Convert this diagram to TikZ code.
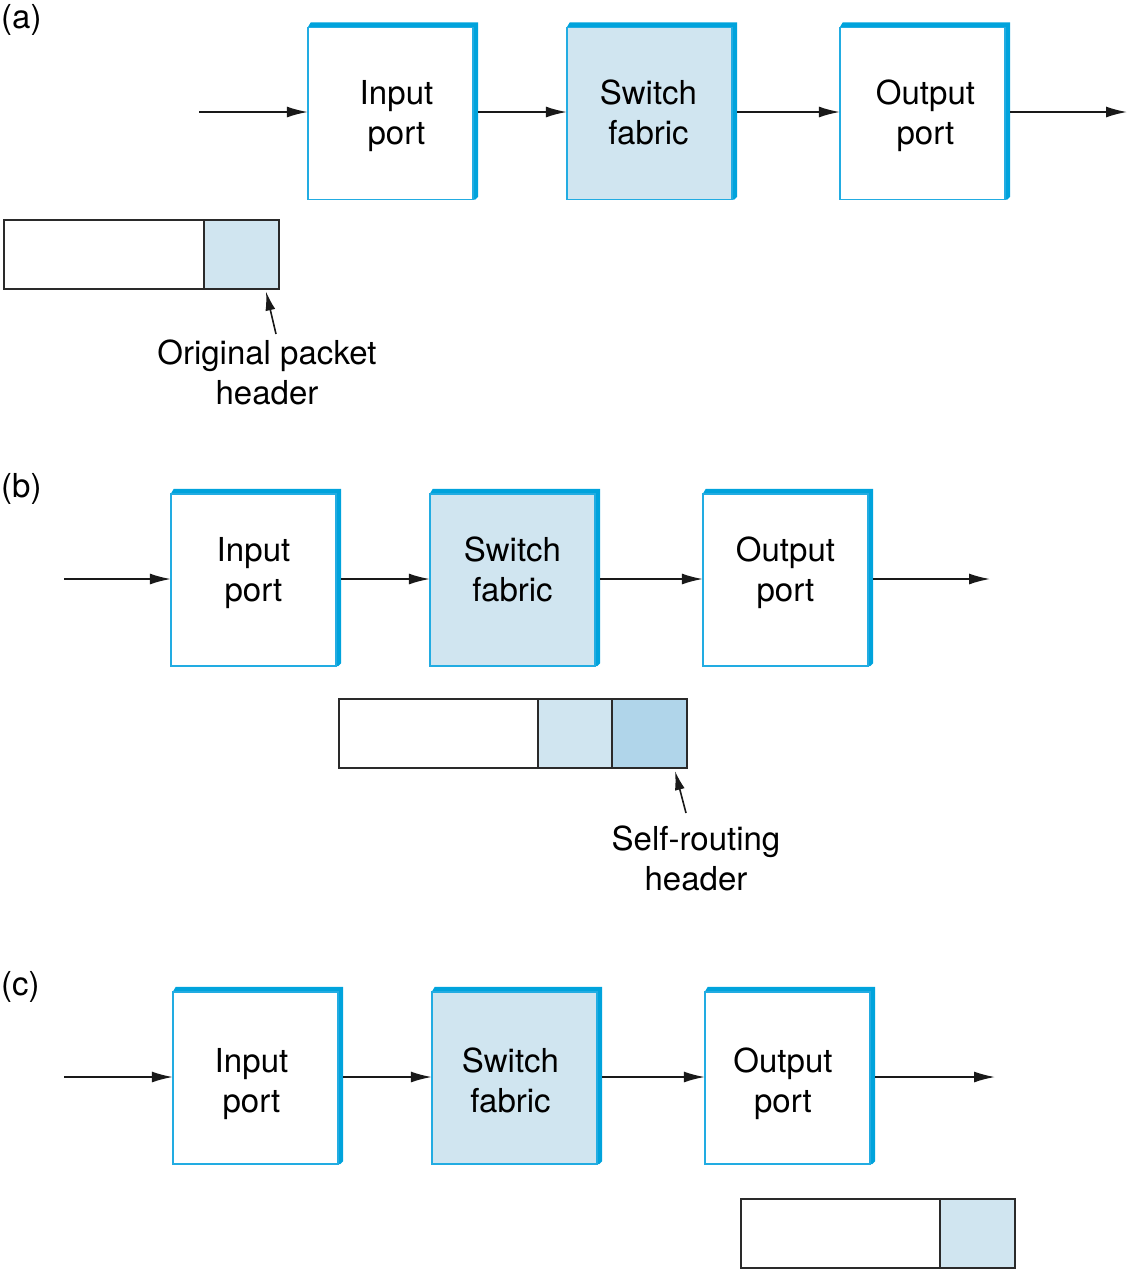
\documentclass[tikz,border=0pt]{standalone}
\usepackage{fontspec}
\setmainfont{TeX Gyre Heros}
\usetikzlibrary{calc,arrows.meta}
\definecolor{edgeblue}{HTML}{00A3DC}
\definecolor{thinblue}{HTML}{22ACE2}
\definecolor{hdrlight}{HTML}{D0E5F0}
\definecolor{hdrdark}{HTML}{B0D5EA}
\definecolor{pktline}{HTML}{2A2A2A}
\tikzset{
  x=1pt, y=-1pt,
  every node/.style={font=\fontsize{33}{40}\selectfont},
  portnode/.style={rectangle, inner sep=0pt, minimum width=170pt, minimum height=177pt, align=center},
  flow/.style={line width=1.6pt, black!90, -{Latex[length=21pt,width=11pt]}},
  pointer/.style={line width=1.6pt, black!90, -{Latex[length=19pt,width=10pt]}},
  pktpart/.style={rectangle, inner sep=0pt, draw=pktline, line width=2pt, minimum height=69pt},
  tag/.style={anchor=west, inner sep=0pt},
  caption/.style={align=center, inner sep=0pt}
}
% \portbox{name}{cx}{cy}{fill}{line1}{line2}{text dx}{text dy}
\newcommand{\portbox}[8]{%
  \node[portnode] (#1) at (#2,#3) {};
  \fill[edgeblue] ($(#1.north west)+(0,5)$) -- ($(#1.north west)+(3,0)$) -- (#1.north east)
     -- ($(#1.south east)+(0,-3)$) -- ($(#1.south east)+(-3,0)$) -- ($(#1.south east)+(-5,0)$)
     -- ($(#1.north east)+(-5,5)$) -- cycle;
  \draw[thinblue, line width=1.5pt, fill=#4] ($(#1.north west)+(0,5)$) rectangle ($(#1.south east)+(-5,0)$);
  \node[align=center, inner sep=0pt] (#1-t) at ($(#1.center)+(#7,#8)$) {#5\strut\\#6\strut};
}
\begin{document}
\begin{tikzpicture}
\useasboundingbox (0,0) rectangle (1129,1270);

% ---------- (a) ----------
\node[tag] (la) at (1,20) {(a)};
\portbox{ina}{393}{111}{white}{Input}{port}{3.5}{5}
\portbox{swa}{652}{111}{hdrlight}{Switch}{fabric}{-3.5}{5}
\portbox{outa}{925}{111}{white}{Output}{port}{0.5}{5}
\coordinate (sa) at (199,112);
\coordinate (ea) at (1127,112);
\draw[flow] (sa) -- (ina.west |- sa);
\draw[flow] (ina.east |- sa) -- (swa.west |- sa);
\draw[flow] (swa.east |- sa) -- (outa.west |- sa);
\draw[flow] (outa.east |- sa) -- (ea);

\node[pktpart, minimum width=200pt] (bodya) at (104,254) {};
\node[pktpart, minimum width=75pt, fill=hdrlight] (hdra) at (241.5,254) {};
\node[caption] (capa) at (267,372) {Original packet\\header};
\coordinate (pa) at (276,334);
\draw[pointer] (pa) -- ($(hdra.south east)+(-14,2)$);

% ---------- (b) ----------
\node[tag] (lb) at (1,489) {(b)};
\portbox{inb}{256}{577.5}{white}{Input}{port}{-2.5}{-4.5}
\portbox{swb}{515}{577.5}{hdrlight}{Switch}{fabric}{-2.5}{-4.5}
\portbox{outb}{788}{577.5}{white}{Output}{port}{-2.5}{-4.5}
\coordinate (sb) at (64,579);
\coordinate (eb) at (990,579);
\draw[flow] (sb) -- (inb.west |- sb);
\draw[flow] (inb.east |- sb) -- (swb.west |- sb);
\draw[flow] (swb.east |- sb) -- (outb.west |- sb);
\draw[flow] (outb.east |- sb) -- (eb);

\node[pktpart, minimum width=199pt] (bodyb) at (438.5,733.5) {};
\node[pktpart, minimum width=74pt, fill=hdrlight] (hdrb) at (575,733.5) {};
\node[pktpart, minimum width=75pt, fill=hdrdark] (srhb) at (649.5,733.5) {};
\node[caption] (capb) at (696,858) {Self-routing\\header};
\coordinate (pb) at (686,813);
\draw[pointer] (pb) -- ($(srhb.south east)+(-13,2)$);

% ---------- (c) ----------
\node[tag] (lc) at (1,987) {(c)};
\portbox{inc}{258}{1075.5}{white}{Input}{port}{-6.5}{8.5}
\portbox{swc}{517}{1075.5}{hdrlight}{Switch}{fabric}{-6.5}{8.5}
\portbox{outc}{790}{1075.5}{white}{Output}{port}{-7}{8.5}
\coordinate (sc) at (64,1077);
\coordinate (ec) at (995,1077);
\draw[flow] (sc) -- (inc.west |- sc);
\draw[flow] (inc.east |- sc) -- (swc.west |- sc);
\draw[flow] (swc.east |- sc) -- (outc.west |- sc);
\draw[flow] (outc.east |- sc) -- (ec);

\node[pktpart, minimum width=199pt] (bodyc) at (840.5,1233.5) {};
\node[pktpart, minimum width=75pt, fill=hdrlight] (hdrc) at (977.5,1233.5) {};
\end{tikzpicture}
\end{document}
